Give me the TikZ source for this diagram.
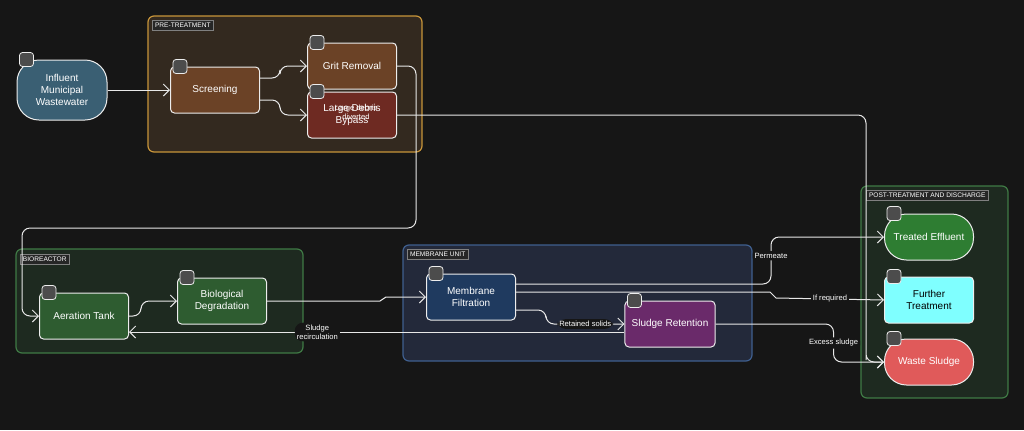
\documentclass[tikz,border=0pt]{standalone}
\usepackage{fontspec}
\setmainfont{Liberation Sans}
\usetikzlibrary{positioning,arrows.meta}
\definecolor{bg}{HTML}{161616}
\definecolor{edge}{HTML}{E8E8E8}
\definecolor{preFill}{HTML}{33291F}
\definecolor{preLine}{HTML}{C8953A}
\definecolor{bioFill}{HTML}{1E2A20}
\definecolor{bioLine}{HTML}{3F7A45}
\definecolor{memFill}{HTML}{23293A}
\definecolor{memLine}{HTML}{3F5F8F}
\definecolor{inflow}{HTML}{3A5F73}
\definecolor{brownStep}{HTML}{6B4226}
\definecolor{redStep}{HTML}{6E2A22}
\definecolor{greenStep}{HTML}{2E5C30}
\definecolor{blueStep}{HTML}{1F3A5F}
\definecolor{purpleStep}{HTML}{6A2A6A}
\definecolor{effluent}{HTML}{2E7D32}
\definecolor{further}{HTML}{7FFFFF}
\definecolor{waste}{HTML}{E05A5A}
\tikzset{
  procBox/.style={draw=edge!80, rounded corners=2pt, minimum width=44.5pt, minimum height=23pt,
    align=center, text=white, font=\fontsize{5}{6}\selectfont, line width=0.5pt},
  term/.style={procBox, rounded corners=11pt},
  group/.style={rounded corners=3pt, line width=0.6pt},
  tag/.style={fill=black!85, draw=black!50, text=white, font=\fontsize{3.3}{4}\selectfont, inner sep=1.3pt, anchor=north west},
  icon/.style={draw=edge!80, fill=black!70, rounded corners=1.5pt, minimum size=7pt, inner sep=0pt},
  flow/.style={draw=edge, line width=0.5pt, rounded corners=4pt, -{Straight Barb[length=3pt]}},
  jog/.style={draw=edge, line width=0.5pt, -{Straight Barb[length=3pt]}},
  lab/.style={fill=bg, text=white, font=\fontsize{3.8}{4.5}\selectfont, inner sep=1pt, align=center}
}
\begin{document}
\begin{tikzpicture}[x=0.5pt,y=-0.5pt]
\fill[bg] (0,0) rectangle (1024,430);
\useasboundingbox (0,0) rectangle (1024,430);

% groups
\draw[group, fill=preFill, draw=preLine] (148,16) rectangle (422,152);
\draw[group, fill=bioFill, draw=bioLine] (16,249) rectangle (303,353);
\draw[group, fill=memFill, draw=memLine] (403,245) rectangle (752,361);
\draw[group, fill=bioFill, draw=bioLine] (861,186) rectangle (1008,398);
\node[tag] (tPre) at (152,20) {PRE-TREATMENT};
\node[tag] (tBio) at (20,254) {BIOREACTOR};
\node[tag] (tMem) at (407,249) {MEMBRANE UNIT};
\node[tag] (tPost) at (866,190) {POST-TREATMENT AND DISCHARGE};

% nodes
\node[term, fill=inflow, minimum width=45pt, minimum height=30pt] (influent) at (62,90) {Influent\\Municipal\\Wastewater};
\node[procBox, fill=brownStep] (screen) at (215,90) {Screening};
\node[procBox, fill=brownStep] (grit) at (352,66) {Grit Removal};
\node[procBox, fill=redStep] (debris) at (352,115) {Large Debris\\Bypass};
\node[lab, fill=none] (diverted) at (356,112) {Large debris\\diverted};
\node[procBox, fill=greenStep] (aeration) at (84,316) {Aeration Tank};
\node[procBox, fill=greenStep] (biodeg) at (222,301) {Biological\\Degradation};
\node[procBox, fill=blueStep] (membrane) at (471,297) {Membrane\\Filtration};
\node[procBox, fill=purpleStep] (retention) at (670,324) {Sludge Retention};
\node[term, fill=effluent] (effluentN) at (929,237) {Treated Effluent};
\node[procBox, fill=further, text=black] (furtherN) at (929,300) {Further\\Treatment};
\node[term, fill=waste] (wasteN) at (929,362) {Waste Sludge};

% icons
\foreach \n in {influent,screen,grit,debris,aeration,biodeg,membrane,retention,effluentN,furtherN,wasteN}
  \node[icon] at ([xshift=5pt]\n.north west) {};

% connectors
\draw[flow] (influent) -- (screen);
\draw[flow] (screen.east |- 0,78) -- ++(20,0) |- (grit.west);
\draw[flow] (screen.east |- 0,100) -- ++(20,0) |- (debris.west);
\coordinate (gTurn) at (416,228);
\draw[flow] (grit.east) -| (gTurn) -| (22,300) |- (aeration.west);
\draw[flow] (debris.east) -| (866,352) |- (wasteN.west);
\draw[flow] (aeration.east) -- ++(12,0) |- (biodeg.west);
\draw[jog] (biodeg.east) -- (380,301) -- (386,297) -- (membrane.west);
\draw[flow] (membrane.east |- 0,284) -- ++(255,0) |- (effluentN.west)
  node[lab, pos=0.3] {Permeate};
\draw[jog] (membrane.east |- 0,292) -- (770,292) -- (776,298) -- (furtherN.west)
  node[lab, pos=0.5] {If required};
\draw[flow] (membrane.east |- 0,310) -- ++(30,0) |- (retention.west)
  node[lab, pos=0.75] {Retained solids};
\draw[flow] (retention.west |- 0,332) -- (aeration.east |- 0,332)
  node[lab, pos=0.62] {Sludge\\recirculation};
\draw[flow] (retention.east) -- ++(118,0) |- (wasteN.west)
  node[lab, pos=0.25] {Excess sludge};
\end{tikzpicture}
\end{document}
